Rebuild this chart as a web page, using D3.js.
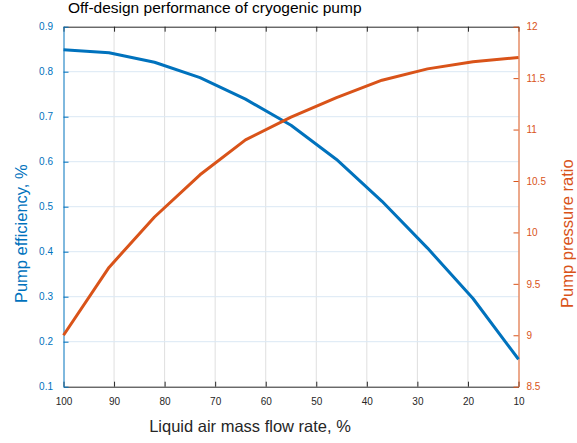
<!DOCTYPE html>
<html><head><meta charset="utf-8">
<script src="https://cdn.jsdelivr.net/npm/d3@7"></script>
<style>body{margin:0;background:#fff}svg{display:block}text{font-family:"Liberation Sans",Arial,sans-serif}</style>
</head><body><svg id="c" width="577" height="443"></svg>
<script>
const flowRate = [100, 91, 82, 73, 64, 55, 46, 37, 28, 19, 10];
const efficiency = [0.849, 0.842, 0.821, 0.787, 0.739, 0.681, 0.605, 0.512, 0.408, 0.296, 0.161];
const pressureRatio = [9.0, 9.66, 10.15, 10.56, 10.9, 11.12, 11.31, 11.48, 11.59, 11.66, 11.7];
const xTicks = [100, 90, 80, 70, 60, 50, 40, 30, 20, 10];
const yLeftTicks = [0.1, 0.2, 0.3, 0.4, 0.5, 0.6, 0.7, 0.8, 0.9];
const yRightTicks = [8.5, 9, 9.5, 10, 10.5, 11, 11.5, 12];

const BLUE = "#0072BD", ORANGE = "#D95319", DARK = "#262626";
const L = 63.5, R = 518.5, T = 26.7, B = 386.7;
const svg = d3.select("#c");
const x = d3.scaleLinear().domain([100, 10]).range([L, R]);
const yL = d3.scaleLinear().domain([0.1, 0.9]).range([B, T]);
const yR = d3.scaleLinear().domain([8.5, 12]).range([B, T]);

// grid
svg.append("g").selectAll("line").data(xTicks.slice(1, -1)).join("line")
  .attr("x1", d => x(d)).attr("x2", d => x(d)).attr("y1", T).attr("y2", B)
  .attr("stroke", "#dfdfdf").attr("stroke-width", 1);
svg.append("g").selectAll("line").data(yLeftTicks.slice(1, -1)).join("line")
  .attr("x1", L).attr("x2", R).attr("y1", d => yL(d)).attr("y2", d => yL(d))
  .attr("stroke", "#dbe8f4").attr("stroke-width", 1);

// axes
const ax = svg.append("g").attr("transform", `translate(0,${B})`)
  .call(d3.axisBottom(x).tickValues(xTicks).tickSizeInner(-5).tickSizeOuter(0).tickPadding(11).tickFormat(d3.format("d")));
ax.select(".domain").attr("stroke", DARK);
ax.selectAll(".tick line").attr("stroke", DARK);
ax.selectAll("text").attr("fill", DARK).attr("font-size", 10).attr("font-family", "Liberation Sans, Arial, sans-serif");

const axT = svg.append("g").attr("transform", `translate(0,${T})`)
  .call(d3.axisTop(x).tickValues(xTicks).tickSizeInner(-5).tickSizeOuter(0).tickFormat(""));
axT.select(".domain").attr("stroke", DARK);
axT.selectAll(".tick line").attr("stroke", DARK);

const aL = svg.append("g").attr("transform", `translate(${L},0)`)
  .call(d3.axisLeft(yL).tickValues(yLeftTicks).tickSizeInner(-5).tickSizeOuter(0).tickPadding(10.5).tickFormat(d3.format(".1f")));
aL.select(".domain").attr("stroke", BLUE);
aL.selectAll(".tick line").attr("stroke", BLUE);
aL.selectAll("text").attr("fill", BLUE).attr("font-size", 10).attr("font-family", "Liberation Sans, Arial, sans-serif");

const aR = svg.append("g").attr("transform", `translate(${R},0)`)
  .call(d3.axisRight(yR).tickValues(yRightTicks).tickSizeInner(-5).tickSizeOuter(0).tickPadding(8).tickFormat(d => String(d)));
aR.select(".domain").attr("stroke", ORANGE);
aR.selectAll(".tick line").attr("stroke", ORANGE);
aR.selectAll("text").attr("fill", ORANGE).attr("font-size", 10).attr("font-family", "Liberation Sans, Arial, sans-serif");

// lines
svg.append("path").datum(flowRate.map((f, i) => [f, efficiency[i]]))
  .attr("fill", "none").attr("stroke", BLUE).attr("stroke-width", 3).attr("stroke-linejoin", "round")
  .attr("d", d3.line().x(d => x(d[0])).y(d => yL(d[1])));
svg.append("path").datum(flowRate.map((f, i) => [f, pressureRatio[i]]))
  .attr("fill", "none").attr("stroke", ORANGE).attr("stroke-width", 3).attr("stroke-linejoin", "round")
  .attr("d", d3.line().x(d => x(d[0])).y(d => yR(d[1])));

// texts
svg.append("text").attr("x", 68).attr("y", 12.7).attr("font-size", 15.5).attr("fill", "#000")
  .text("Off-design performance of cryogenic pump");
svg.append("text").attr("x", 250).attr("y", 431.5).attr("text-anchor", "middle").attr("font-size", 16.5).attr("fill", DARK)
  .text("Liquid air mass flow rate, %");
svg.append("text").attr("transform", `translate(27,${(T + B) / 2 + 27}) rotate(-90)`).attr("text-anchor", "middle")
  .attr("font-size", 16.5).attr("fill", BLUE).text("Pump efficiency, %");
svg.append("text").attr("transform", `translate(572.5,${(T + B) / 2 + 27}) rotate(-90)`).attr("text-anchor", "middle")
  .attr("font-size", 16.5).attr("fill", ORANGE).text("Pump pressure ratio");
</script></body></html>
